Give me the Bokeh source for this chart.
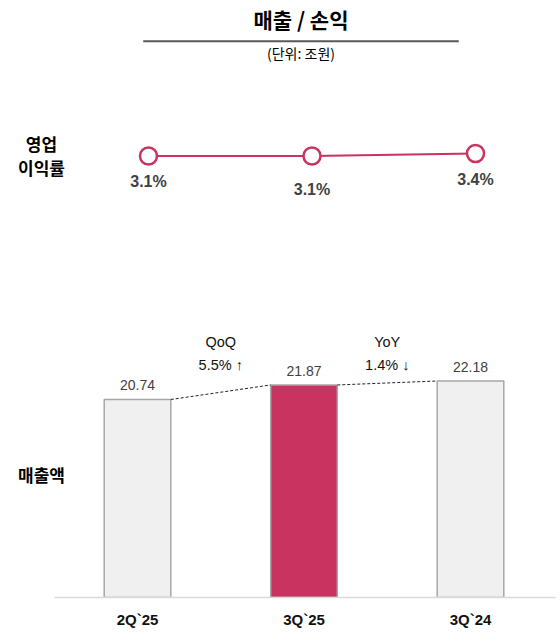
from bokeh.plotting import figure
from bokeh.models import ColumnDataSource, Range1d, Label, BoxAnnotation, FixedTicker
from bokeh.transform import dodge
from bokeh.core.properties import value
from bokeh.embed import file_html
from bokeh.resources import INLINE

# ---- data ----
periods = ["2Q`25", "3Q`25", "3Q`24"]
sales = [20.74, 21.87, 22.18]
sales_labels = ["20.74", "21.87", "22.18"]
margin = [3.1, 3.1, 3.4]
margin_labels = ["3.1%", "3.1%", "3.4%"]
change_names = ["QoQ", "YoY"]
change_values = ["5.5% ↑", "1.4% ↓"]
highlight = "3Q`25"
title_text = "매출 / 손익"
unit_text = "(단위: 조원)"
row_margin = ["영업", "이익률"]
row_sales = "매출액"

RED = "#c8335f"
GRAY_FILL = "#f0f0f0"
GRAY_LINE = "#a6a6a6"
TXT = "#404040"
KR = "Noto Sans CJK KR"
NUM = "Liberation Sans"

idx = list(range(len(periods)))

W, H = 560, 642
p = figure(width=W, height=H, output_backend="svg", toolbar_location=None,
           x_range=Range1d(-0.8228, 2.5105), y_range=Range1d(5.33, 51.79),
           y_axis_location=None,
           min_border_left=0, min_border_right=5, min_border_top=0, min_border_bottom=45)
p.extra_x_ranges = {"m": Range1d(-0.9052, 2.4893)}
p.extra_y_ranges = {"m": Range1d(-49.88, 21.76)}
p.outline_line_color = None
p.xgrid.visible = False
p.ygrid.visible = False
p.background_fill_color = "white"
p.border_fill_color = "white"

ax = p.xaxis[0]
ax.ticker = FixedTicker(ticks=idx)
ax.major_label_overrides = {i: c for i, c in zip(idx, periods)}
ax.bounds = (-0.5, 2.5105)
ax.axis_line_color = "#d9d9d9"
ax.axis_line_width = 1.5
ax.major_tick_line_color = None
ax.minor_tick_line_color = None
ax.major_label_standoff = 7
ax.major_label_text_font = NUM
ax.major_label_text_font_style = "bold"
ax.major_label_text_font_size = "15px"
ax.major_label_text_color = "#111111"

# ---- bars ----
bars = ColumnDataSource(dict(
    i=idx, period=periods, sales=sales, label=sales_labels,
    fill=[RED if c == highlight else GRAY_FILL for c in periods],
))
p.vbar(x="i", top="sales", bottom=0, width=0.4, source=bars,
       fill_color="fill", line_color=GRAY_LINE, line_width=1.5)
p.text(x="i", y="sales", text="label", source=bars, y_offset=-14,
       text_align="center", text_baseline="middle", text_color=TXT,
       text_font=value(NUM), text_font_size="14px")

# ---- connectors & change notes ----
conn = ColumnDataSource(dict(
    x0=idx[:-1], x1=idx[1:], y0=sales[:-1], y1=sales[1:],
    name=change_names, val=change_values, top=[max(sales)] * 2,
))
p.segment(x0=dodge("x0", 0.2), y0="y0", x1=dodge("x1", -0.2), y1="y1",
          source=conn, line_color="#222222", line_width=1, line_dash="3 2")
p.text(x=dodge("x0", 0.5), y="top", text="name", source=conn,
       y_offset=-39, text_align="center", text_baseline="middle", text_color="#111111",
       text_font=value(NUM), text_font_size="14.5px")
p.text(x=dodge("x0", 0.5), y="top", text="val", source=conn,
       y_offset=-16, text_align="center", text_baseline="middle", text_color="#111111",
       text_font=value(NUM), text_font_size="14.5px")

# ---- operating margin line ----
line_src = ColumnDataSource(dict(
    x=idx, m=margin, label=margin_labels, dy=[25, 33, 26],
))
p.line(x="x", y="m", source=line_src, x_range_name="m", y_range_name="m",
       line_color=RED, line_width=2)
p.scatter(x="x", y="m", source=line_src, x_range_name="m", y_range_name="m",
          size=17, fill_color="white", line_color=RED, line_width=2.5)
p.text(x="x", y="m", text="label", source=line_src, x_range_name="m", y_range_name="m",
       y_offset="dy", text_align="center", text_baseline="middle", text_color=TXT,
       text_font=value(NUM), text_font_style="bold", text_font_size="16px")

# ---- title and row labels ----
p.add_layout(Label(x=300.5, y=18, x_units="canvas", y_units="canvas", text=title_text,
                   text_align="center", text_baseline="middle", text_font=KR,
                   text_font_style="bold", text_font_size="21px", text_color="#000000"))
p.add_layout(BoxAnnotation(left=142.7, right=458.3, top=39.7, bottom=41.7,
                           left_units="canvas", right_units="canvas",
                           top_units="canvas", bottom_units="canvas",
                           fill_color="#595959", fill_alpha=1, line_color=None))
p.add_layout(Label(x=300.5, y=52, x_units="canvas", y_units="canvas", text=unit_text,
                   text_align="center", text_baseline="middle", text_font=KR,
                   text_font_size="14px", text_color="#000000"))
for txt, yy in zip(row_margin, [143, 167]):
    p.add_layout(Label(x=41, y=yy, x_units="canvas", y_units="canvas", text=txt,
                       text_align="center", text_baseline="middle", text_font=KR,
                       text_font_style="bold", text_font_size="17px", text_color="#000000"))
p.add_layout(Label(x=41, y=474, x_units="canvas", y_units="canvas", text=row_sales,
                   text_align="center", text_baseline="middle", text_font=KR,
                   text_font_style="bold", text_font_size="17px", text_color="#000000"))

open("out.html", "w").write(file_html(p, INLINE))
